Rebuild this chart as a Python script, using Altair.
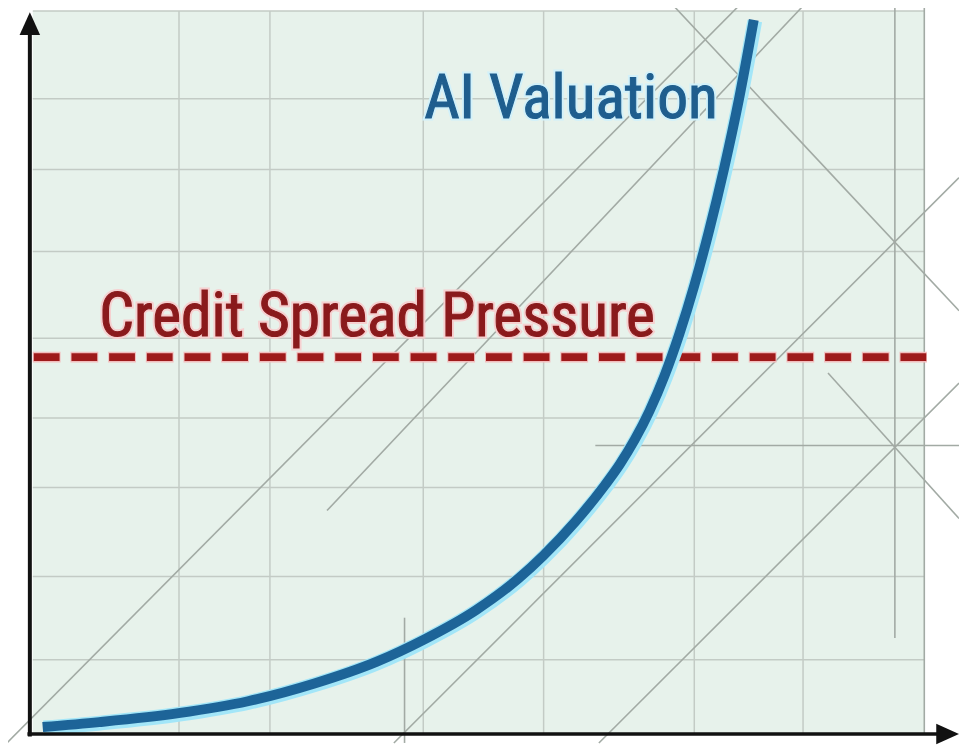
import altair as alt
import pandas as pd

# ---- data (x = time share of axis, y = level share of axis) ----
curve_t = [1.11, 7.45, 16.35, 24.14, 31.59, 38.60, 43.83, 49.72, 54.51, 57.29, 60.85, 64.18,
           65.85, 67.52, 69.19, 70.86, 72.52, 74.19, 75.86, 77.53, 79.20, 80.87]
curve_v = [1.10, 1.78, 3.01, 4.66, 7.12, 10.14, 13.15, 17.26, 21.64, 24.79, 29.45, 34.52,
           37.40, 40.79, 44.79, 49.62, 55.38, 62.05, 69.66, 78.18, 87.74, 98.77]

spread_level = 52.2
spread_x = [0.0, 100.3]

grid_x = [16.4, 26.6, 43.8, 57.3, 74.2, 86.4]
grid_y = [10.4, 21.9, 34.2, 43.8, 54.8, 66.8, 78.1, 87.9, 100.0]

# decorative construction lines
seg_x1 = [-2.9, 33.0, 40.5, 63.5, 71.6, 89.2, 63.1, 96.7, 41.7, 100.0]
seg_y1 = [-1.1, 31.0, -1.1, -1.1, 101.1, 50.0, 40.0, 101.1, 16.2, 101.1]
seg_x2 = [79.5, 86.7, 103.9, 103.9, 103.9, 103.9, 103.9, 96.7, 41.7, 100.0]
seg_y2 = [101.1, 101.1, 77.0, 48.6, 58.6, 29.9, 40.0, 13.4, -1.1, 0.0]

labels = ["Credit Spread Pressure", "AI Valuation"]
label_x = [7.45, 43.9]
label_y = [55.1, 85.2]

FONT = "Liberation Sans Narrow, Arial Narrow, Roboto Condensed, Liberation Sans"

xs = alt.Scale(domain=[0, 100], nice=False, zero=False)
ys = alt.Scale(domain=[0, 100], nice=False, zero=False)

def X(f):
    return alt.X(f, type="quantitative", scale=xs, axis=None)

def Y(f):
    return alt.Y(f, type="quantitative", scale=ys, axis=None)

curve_df = pd.DataFrame({"t": curve_t, "v": curve_v})
vgrid_df = pd.DataFrame({"x": grid_x, "y1": [0.0] * len(grid_x), "y2": [100.0] * len(grid_x)})
hgrid_df = pd.DataFrame({"y": grid_y, "x1": [0.0] * len(grid_y), "x2": [100.0] * len(grid_y)})
seg_df = pd.DataFrame({"x1": seg_x1, "y1": seg_y1, "x2": seg_x2, "y2": seg_y2})
spread_df = pd.DataFrame({"x1": [spread_x[0]], "x2": [spread_x[1]], "y": [spread_level]})
lab_df = pd.DataFrame({"label": labels, "x": label_x, "y": label_y})
axis_df = pd.DataFrame({"x1": [-0.33, -0.6], "x2": [-0.33, 101.5], "y1": [-0.2, 0.14], "y2": [97.5, 0.14],
                        "w": [4.0, 3.5]})
arrow_up = pd.DataFrame({"x": [-0.33], "y": [99.85]})
arrow_right = pd.DataFrame({"x": [103.9], "y": [0.14]})

grid_color = "#c3cbc5"

vgrid = alt.Chart(vgrid_df).mark_rule(color=grid_color, strokeWidth=1.5).encode(
    x=X("x"), y=Y("y1"), y2="y2")
hgrid = alt.Chart(hgrid_df).mark_rule(color=grid_color, strokeWidth=1.5).encode(
    y=Y("y"), x=X("x1"), x2="x2")
segs = alt.Chart(seg_df).mark_rule(color="#a2aaa4", strokeWidth=1.6).encode(
    x=X("x1"), y=Y("y1"), x2="x2", y2="y2")

spread_glow = alt.Chart(spread_df).mark_rule(color="#f2bdbd", strokeWidth=11, strokeDash=[28, 10]).encode(
    x=X("x1"), x2="x2", y=Y("y"))
spread = alt.Chart(spread_df).mark_rule(color="#9e1a1a", strokeWidth=8, strokeDash=[26, 12],
                                          strokeDashOffset=-1).encode(
    x=X("x1"), x2="x2", y=Y("y"))

red_lab = lab_df[lab_df["label"] == labels[0]]
blue_lab = lab_df[lab_df["label"] == labels[1]]

red_text_glow = alt.Chart(red_lab).mark_text(align="left", baseline="alphabetic", font=FONT, fontSize=62,
                                             color="#f6d0d0", stroke="#f6d0d0", strokeWidth=5).encode(
    x=X("x"), y=Y("y"), text="label")
red_text = alt.Chart(red_lab).mark_text(align="left", baseline="alphabetic", font=FONT, fontSize=62,
                                        color="#8a1a1c", stroke="#8a1a1c", strokeWidth=1.1).encode(
    x=X("x"), y=Y("y"), text="label")
blue_text_glow = alt.Chart(blue_lab).mark_text(align="left", baseline="alphabetic", font=FONT, fontSize=62,
                                               color="#d2f1fa", stroke="#d2f1fa", strokeWidth=5).encode(
    x=X("x"), y=Y("y"), text="label")
blue_text = alt.Chart(blue_lab).mark_text(align="left", baseline="alphabetic", font=FONT, fontSize=62,
                                          color="#1f5e8e", stroke="#1f5e8e", strokeWidth=1.1).encode(
    x=X("x"), y=Y("y"), text="label")

curve_glow = alt.Chart(curve_df).mark_line(color="#a3e6f8", strokeWidth=15, interpolate="monotone",
                                           strokeCap="butt", xOffset=1, yOffset=1).encode(
    x=X("t"), y=Y("v"), order="t:Q")
curve = alt.Chart(curve_df).mark_line(color="#1d6498", strokeWidth=10, interpolate="monotone",
                                      strokeCap="butt").encode(
    x=X("t"), y=Y("v"), order="t:Q")

axes = alt.Chart(axis_df).mark_rule(color="#111111", strokeCap="butt").encode(
    x=X("x1"), x2="x2", y=Y("y1"), y2="y2",
    strokeWidth=alt.StrokeWidth("w:Q", scale=None, legend=None))
up = alt.Chart(arrow_up).mark_point(shape="M0,0L-0.9,2L0.9,2Z", size=529, filled=True, color="#111111",
                                    opacity=1).encode(x=X("x"), y=Y("y"))
right = alt.Chart(arrow_right).mark_point(shape="M0,0L-2,-0.9L-2,0.9Z", size=529, filled=True,
                                          color="#111111", opacity=1).encode(x=X("x"), y=Y("y"))

chart = alt.layer(
    vgrid, hgrid, segs, spread_glow, spread, red_text_glow, red_text,
    curve_glow, curve, blue_text_glow, blue_text, axes, up, right
).properties(
    width=899, height=730,
    autosize=alt.AutoSizeParams(type="none"),
    padding={"left": 25, "top": 0, "right": 35, "bottom": 8},
    background="#ffffff",
).configure_view(fill="#e7f2eb", stroke=None)

chart.save("out.html", embed_options={"renderer": "svg", "actions": False})
